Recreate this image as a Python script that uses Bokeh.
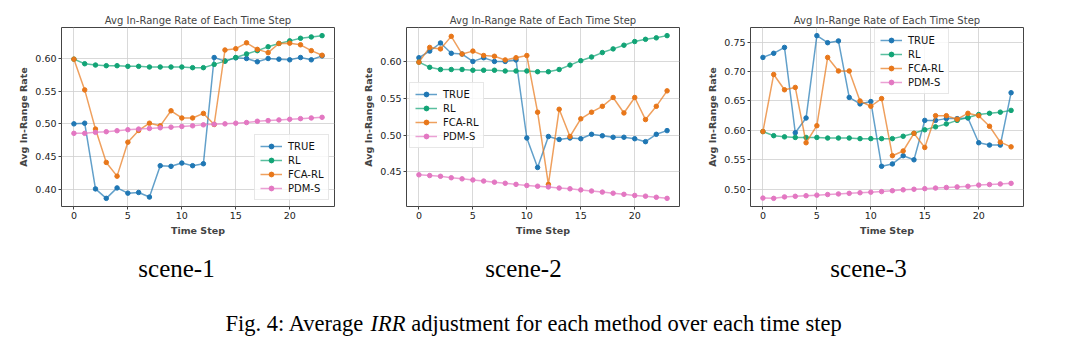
from bokeh.plotting import figure
from bokeh.layouts import column, row
from bokeh.models import FixedTicker, PrintfTickFormatter, Legend, LegendItem, Range1d
from bokeh.core.properties import value
from bokeh.embed import file_html
from bokeh.resources import INLINE

steps = list(range(24))
series_names = ["TRUE", "RL", "FCA-RL", "PDM-S"]
colors = ["#1f77b4", "#12a476", "#e8771a", "#e377c2"]

s1_true = [0.500, 0.501, 0.4005, 0.386, 0.402, 0.394, 0.395, 0.388, 0.436, 0.435, 0.440, 0.436,
           0.439, 0.6015, 0.596, 0.601, 0.600, 0.595, 0.600, 0.599, 0.598, 0.6015, 0.598, 0.604]
s1_rl = [0.599, 0.592, 0.590, 0.589, 0.589, 0.588, 0.588, 0.587, 0.587, 0.587, 0.587, 0.586,
         0.586, 0.591, 0.596, 0.6015, 0.607, 0.612, 0.618, 0.623, 0.627, 0.631, 0.633, 0.635]
s1_fca = [0.599, 0.552, 0.492, 0.441, 0.420, 0.472, 0.490, 0.501, 0.497, 0.520, 0.509, 0.509,
          0.516, 0.499, 0.613, 0.615, 0.624, 0.614, 0.609, 0.623, 0.6235, 0.621, 0.612, 0.605]
s1_pdm = [0.4855, 0.4855, 0.487, 0.488, 0.4895, 0.491, 0.492, 0.493, 0.494, 0.495, 0.496, 0.497,
          0.4985, 0.4995, 0.500, 0.501, 0.502, 0.504, 0.505, 0.506, 0.507, 0.508, 0.509, 0.510]

s2_true = [0.605, 0.614, 0.625, 0.611, 0.610, 0.600, 0.605, 0.600, 0.600, 0.602, 0.496, 0.456,
           0.498, 0.494, 0.496, 0.495, 0.501, 0.499, 0.497, 0.497, 0.495, 0.491, 0.501, 0.506]
s2_rl = [0.599, 0.592, 0.589, 0.589, 0.589, 0.588, 0.588, 0.588, 0.587, 0.587, 0.587, 0.586,
         0.586, 0.589, 0.595, 0.601, 0.606, 0.612, 0.617, 0.622, 0.627, 0.630, 0.632, 0.635]
s2_fca = [0.599, 0.619, 0.617, 0.634, 0.610, 0.614, 0.608, 0.607, 0.602, 0.605, 0.608, 0.531,
          0.433, 0.535, 0.498, 0.522, 0.531, 0.539, 0.551, 0.530, 0.551, 0.521, 0.539, 0.560]
s2_pdm = [0.446, 0.445, 0.444, 0.442, 0.4405, 0.439, 0.4375, 0.436, 0.4345, 0.433, 0.4315, 0.4305,
          0.4295, 0.428, 0.427, 0.4255, 0.424, 0.4225, 0.421, 0.4195, 0.418, 0.417, 0.4155, 0.414]

s3_true = [0.724, 0.731, 0.741, 0.596, 0.621, 0.761, 0.749, 0.752, 0.656, 0.645, 0.649, 0.539,
           0.543, 0.557, 0.550, 0.617, 0.617, 0.620, 0.620, 0.621, 0.579, 0.575, 0.575, 0.664]
s3_rl = [0.598, 0.591, 0.589, 0.588, 0.588, 0.588, 0.587, 0.587, 0.587, 0.586, 0.586, 0.586,
         0.586, 0.590, 0.595, 0.601, 0.606, 0.611, 0.617, 0.622, 0.627, 0.629, 0.631, 0.634]
s3_fca = [0.598, 0.695, 0.669, 0.673, 0.579, 0.608, 0.724, 0.701, 0.701, 0.650, 0.641, 0.654,
          0.557, 0.565, 0.595, 0.571, 0.625, 0.625, 0.619, 0.629, 0.625, 0.607, 0.580, 0.572]
s3_pdm = [0.485, 0.4845, 0.487, 0.488, 0.489, 0.490, 0.491, 0.492, 0.493, 0.494, 0.495, 0.496,
          0.4975, 0.499, 0.500, 0.501, 0.502, 0.503, 0.504, 0.505, 0.507, 0.508, 0.509, 0.510]

x_ticks = [0, 5, 10, 15, 20]
y_ticks_1 = [0.40, 0.45, 0.50, 0.55, 0.60]
y_ticks_2 = [0.45, 0.50, 0.55, 0.60]
y_ticks_3 = [0.50, 0.55, 0.60, 0.65, 0.70, 0.75]
scene_labels = ["scene-1", "scene-2", "scene-3"]
title_text = "Avg In-Range Rate of Each Time Step"
caption_pre = "Fig. 4: Average"
caption_it = "IRR"
caption_post = "adjustment for each method over each time step"

FONT = "DejaVu Sans"


def make_panel(series, yticks, width, left, right, legend_loc):
    allv = [v for s in series for v in s]
    lo, hi = min(allv), max(allv)
    pad = (hi - lo) * 0.05
    p = figure(width=width, height=241, output_backend="svg", toolbar_location=None,
               x_range=Range1d(-1.15, 24.15), y_range=Range1d(lo - pad, hi + pad),
               min_border_left=left, min_border_right=right, min_border_top=27,
               min_border_bottom=35)
    p.title.text = title_text
    p.title.align = "center"
    p.title.text_font = FONT
    p.title.text_font_style = "normal"
    p.title.text_font_size = "10px"
    p.title.standoff = 3
    p.outline_line_color = "#444444"
    p.outline_line_width = 1
    p.background_fill_color = "white"
    p.border_fill_color = "white"
    for ax in (p.xaxis[0], p.yaxis[0]):
        ax.axis_line_color = None
        ax.major_tick_line_color = "#444444"
        ax.major_tick_out = 3
        ax.major_tick_in = 0
        ax.minor_tick_line_color = None
        ax.major_label_text_font = FONT
        ax.major_label_text_font_size = "9.5px"
        ax.major_label_text_color = "#222222"
        ax.major_label_standoff = 2
        ax.axis_label_text_font = FONT
        ax.axis_label_text_font_style = "bold"
        ax.axis_label_text_font_size = "9.5px"
        ax.axis_label_standoff = 3
    p.xaxis[0].ticker = FixedTicker(ticks=x_ticks)
    p.yaxis[0].ticker = FixedTicker(ticks=yticks)
    p.yaxis[0].formatter = PrintfTickFormatter(format="%.2f")
    p.xaxis[0].axis_label = "Time Step"
    p.yaxis[0].axis_label = "Avg In-Range Rate"
    p.grid.grid_line_color = "#cfcfcf"
    p.grid.grid_line_width = 0.8
    items = []
    for name, s, c in zip(series_names, series, colors):
        l = p.line(steps, s, line_color=c, line_width=1.5, line_alpha=0.7)
        m = p.scatter(steps, s, size=4.5, fill_color=c, line_color=c)
        items.append(LegendItem(label=name, renderers=[l, m]))
    leg = Legend(items=items, location=legend_loc)
    leg.label_text_font = FONT
    leg.label_text_font_size = "10px"
    leg.label_text_color = "#111111"
    leg.label_height = 12
    leg.glyph_height = 12
    leg.glyph_width = 22
    leg.label_standoff = 6
    leg.spacing = 2
    leg.padding = 5
    leg.margin = 0
    leg.border_line_color = "#d0d0d0"
    leg.border_line_width = 1
    leg.background_fill_alpha = 0.8
    p.add_layout(leg, "center")
    return p


p1 = make_panel([s1_true, s1_rl, s1_fca, s1_pdm], y_ticks_1, 345, 61, 11, (193, 6))
p2 = make_panel([s2_true, s2_rl, s2_fca, s2_pdm], y_ticks_2, 345, 61, 11, (3, 58))
p3 = make_panel([s3_true, s3_rl, s3_fca, s3_pdm], y_ticks_3, 376, 60, 43, (124, 112))

cap = figure(width=1066, height=118, output_backend="svg", toolbar_location=None,
             x_range=Range1d(0, 1066), y_range=Range1d(118, 0),
             min_border=0)
cap.axis.visible = False
cap.grid.visible = False
cap.outline_line_color = None
SERIF = "Liberation Serif"
FS = 22.5
cap.text(x=[176, 523, 868], y=[27, 27, 27], text=scene_labels, text_font=value(SERIF),
         text_font_size="25px", text_align="center", text_baseline="middle", text_color="black")
x0 = 225
x_it = x0 + 6.449 * FS
x_post = x_it + 1.555 * FS + 0.25 * FS
cap.text(x=[x0], y=[82], text=[caption_pre], text_font=value(SERIF), text_font_size=f"{FS}px",
         text_align="left", text_baseline="middle", text_color="black")
cap.text(x=[x_it], y=[82], text=[caption_it], text_font=value(SERIF), text_font_size=f"{FS}px",
         text_font_style="italic", text_align="left", text_baseline="middle", text_color="black")
cap.text(x=[x_post], y=[82], text=[caption_post], text_font=value(SERIF), text_font_size=f"{FS}px",
         text_align="left", text_baseline="middle", text_color="black")

layout = column(row(p1, p2, p3), cap)
open("out.html", "w").write(file_html(layout, INLINE))
